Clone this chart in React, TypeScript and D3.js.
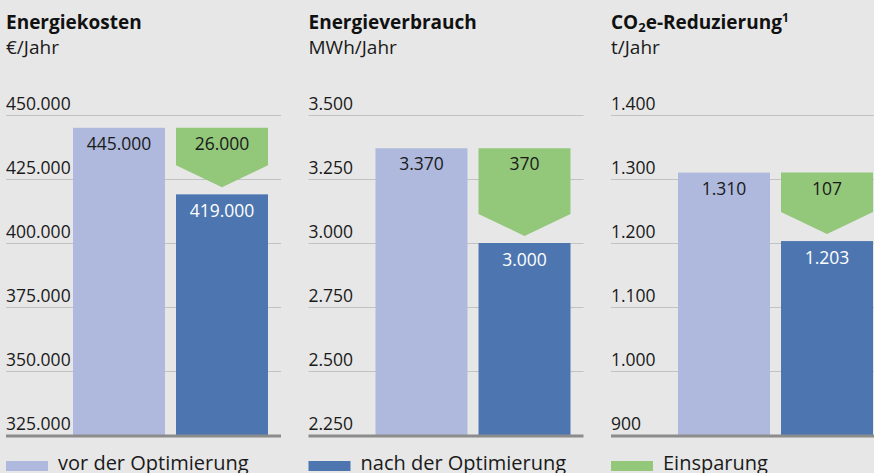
import React from "react";
import * as d3 from "d3";

const titles = ["Energiekosten", "Energieverbrauch", "CO2e-Reduzierung"];
const units = ["€/Jahr", "MWh/Jahr", "t/Jahr"];
const before = [445000, 3370, 1310];
const after = [419000, 3000, 1203];
const savings = [26000, 370, 107];
const ticks = [
  [325000, 350000, 375000, 400000, 425000, 450000],
  [2250, 2500, 2750, 3000, 3250, 3500],
  [900, 1000, 1100, 1200, 1300, 1400],
];
const legendLabels = ["vor der Optimierung", "nach der Optimierung", "Einsparung"];

const W = 874;
const H = 473;
const font = "'Open Sans', sans-serif";
const colors = { before: "#aeb9dd", after: "#4d76b1", saving: "#93c77a" };
const legendColors = [colors.before, colors.after, colors.saving];

const de = d3.formatLocale({ decimal: ",", thousands: ".", grouping: [3], currency: ["", " €"] });
const fmt = de.format(",");

const panelW = 275;
const top = 115;
const bottom = 435;

const Title = ({ text }: { text: string }) => {
  if (text.startsWith("CO2")) {
    return (
      <>
        CO
        <tspan fontSize={13} dy={3}>2</tspan>
        <tspan dy={-3}>e-Reduzierung</tspan>
        <tspan fontSize={12} dy={-7}>1</tspan>
      </>
    );
  }
  return <>{text}</>;
};

const Panel = ({ i }: { i: number }) => {
  const x0 = 6 + i * 302.5;
  const t = ticks[i];
  const y = d3.scaleLinear().domain([t[0], t[t.length - 1]]).range([bottom, top]);
  const x = d3.scaleBand().domain(["vor", "nach"]).range([67, 262]).paddingInner(0.107);
  const bw = x.bandwidth();
  const xb = x("vor")!;
  const xa = x("nach")!;
  const yb = y(before[i]);
  const ya = y(after[i]);
  const tip = ya - 7;
  const shoulder = tip - 22;
  const arrow = d3.line()([
    [xa, yb],
    [xa + bw, yb],
    [xa + bw, shoulder],
    [xa + bw / 2, tip],
    [xa, shoulder],
  ]) + "Z";

  return (
    <g transform={`translate(${x0},0)`}>
      <text x={0} y={29} fontFamily={font} fontWeight="bold" fontSize={19} fill="#111">
        <Title text={titles[i]} />
      </text>
      <text x={0} y={54} fontFamily={font} fontSize={19} fill="#1a1a1a">{units[i]}</text>
      {t.map((v, k) => (
        <g key={v}>
          {k > 0 && (
            <line x1={0} x2={panelW} y1={Math.round(y(v)) + 0.5} y2={Math.round(y(v)) + 0.5} stroke="#c2c2c2" strokeWidth={1} />
          )}
          <text x={0} y={y(v) - 5} fontFamily={font} fontSize={17.5} fill="#1a1a1a">{fmt(v)}</text>
        </g>
      ))}
      <rect x={xb} y={yb} width={bw} height={bottom - yb} fill={colors.before} />
      <rect x={xa} y={ya} width={bw} height={bottom - ya} fill={colors.after} />
      <path d={arrow} fill={colors.saving} />
      <line x1={0} x2={panelW} y1={bottom + 1} y2={bottom + 1} stroke="#8c8c8c" strokeWidth={3} />
      <text x={xb + bw / 2} y={yb + 22} textAnchor="middle" fontFamily={font} fontSize={17.5} fill="#1a1a1a">{fmt(before[i])}</text>
      <text x={xa + bw / 2} y={yb + 22} textAnchor="middle" fontFamily={font} fontSize={17.5} fill="#1a1a1a">{fmt(savings[i])}</text>
      <text x={xa + bw / 2} y={ya + 23} textAnchor="middle" fontFamily={font} fontSize={17.5} fill="#ffffff">{fmt(after[i])}</text>
      <rect x={0} y={461} width={42} height={10} fill={legendColors[i]} />
      <text x={52} y={470} fontFamily={font} fontSize={20} fill="#1a1a1a">{legendLabels[i]}</text>
    </g>
  );
};

export default function App() {
  return (
    <svg width={W} height={H} style={{ position: "fixed", left: 0, top: 0 }}>
      <rect width={W} height={H} fill="#e7e7e7" />
      {titles.map((_, i) => (
        <Panel key={i} i={i} />
      ))}
    </svg>
  );
}
